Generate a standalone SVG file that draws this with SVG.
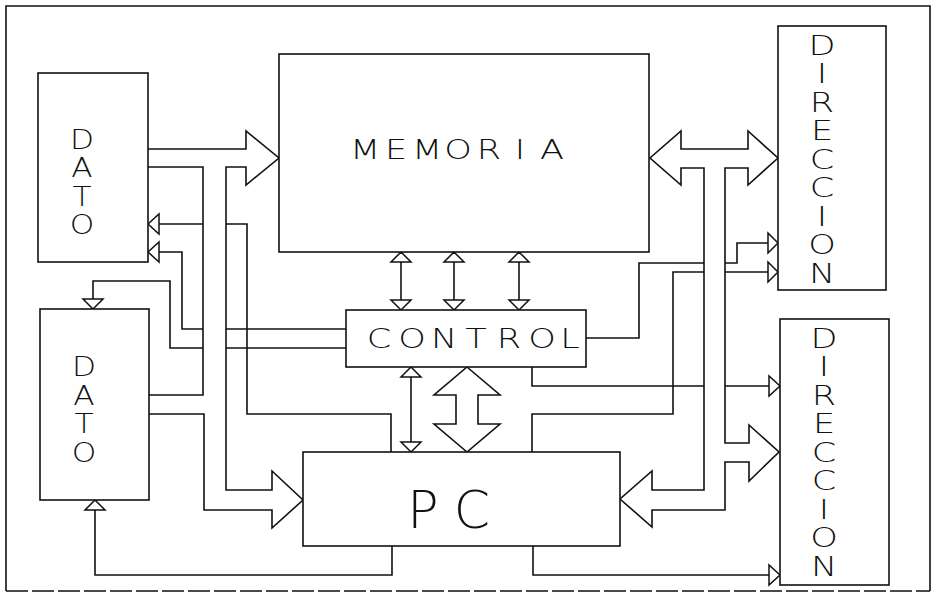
<svg xmlns="http://www.w3.org/2000/svg" width="932" height="593" viewBox="0 0 932 593">
<style>
.ln{fill:none;stroke:#111;stroke-width:1.6;stroke-linejoin:miter}
.bx{fill:#fff;stroke:#111;stroke-width:1.6}
.ah{fill:#fff;stroke:#111;stroke-width:1.5;stroke-linejoin:miter}
.t{font-family:"DejaVu Sans","Liberation Sans",sans-serif;font-weight:200;fill:#111;text-anchor:middle}
.s27{font-size:27px}
.s26{font-size:26px}
.s52{font-size:52px}
</style>
<rect width="932" height="593" fill="#fff"/>
<g id="frame">
<path class="ln" d="M6,591 L6,6 L930,6 L930,591"/>
<line x1="6" y1="591" x2="930" y2="591" stroke="#111" stroke-width="1.6" stroke-dasharray="22,4"/>
</g>
<g id="connectors">
<!-- left bus -->
<polyline class="ln" points="148,149 246,149 246,131 279,158 246,185 246,167 226,167 226,490 272,490 272,471 303,500 272,528 272,510 204,510 204,414 149,414"/>
<polyline class="ln" points="148,167 203,167 203,395 149,395"/>
<polyline class="ln" points="203,224 159,224"/>
<polygon class="ah" points="148,224 159,214 159,234"/>
<polyline class="ln" points="203,329 182,329 182,252 159,252"/>
<polygon class="ah" points="148,252 159,242 159,262"/>
<polyline class="ln" points="203,348 170,348 170,281 93,281 93,299"/>
<polygon class="ah" points="93,309 83,299 103,299"/>
<polyline class="ln" points="226,224 247,224 247,414 391,414 391,452"/>
<polyline class="ln" points="346,329 226,329"/>
<polyline class="ln" points="346,348 226,348"/>
<polyline class="ln" points="392,546 392,575 95,575 95,510"/>
<polygon class="ah" points="95,500 85,510 105,510"/>
<!-- memoria - control -->
<g id="mc1"><line class="ln" x1="401" y1="262" x2="401" y2="300"/><polygon class="ah" points="401,252 391,262 411,262"/><polygon class="ah" points="391,300 411,300 401,310"/></g>
<g id="mc2"><line class="ln" x1="454" y1="262" x2="454" y2="300"/><polygon class="ah" points="454,252 444,262 464,262"/><polygon class="ah" points="444,300 464,300 454,310"/></g>
<g id="mc3"><line class="ln" x1="519" y1="262" x2="519" y2="300"/><polygon class="ah" points="519,252 509,262 529,262"/><polygon class="ah" points="509,300 529,300 519,310"/></g>
<!-- control - pc -->
<line class="ln" x1="411" y1="377" x2="411" y2="442"/>
<polygon class="ah" points="411,367 401,377 421,377"/>
<polygon class="ah" points="401,442 421,442 411,452"/>
<polygon class="ln" points="467,367 500,395 478,395 478,424 500,424 467,452 434,424 456,424 456,395 434,395"/>
<!-- right bus -->
<polygon class="ln" points="704,168 681,168 681,185 650,158 681,131 681,149 748,149 748,131 778,158 748,185 748,168 725,168 725,443 749,443 749,425 779,452 749,481 749,462 725,462 725,510 652,510 652,527 620,499 652,471 652,490 704,490"/>
<polyline class="ln" points="586,338 639,338 639,263 704,263"/>
<polyline class="ln" points="725,263 737,263 737,243 768,243"/>
<polygon class="ah" points="778,243 768,233 768,253"/>
<polyline class="ln" points="725,272 768,272"/>
<polygon class="ah" points="778,272 768,262 768,282"/>
<polyline class="ln" points="704,272 673,272 673,414 532,414 532,452"/>
<polyline class="ln" points="532,367 532,386 704,386"/>
<polyline class="ln" points="725,386 769,386"/>
<polygon class="ah" points="780,386 769,376 769,396"/>
<polyline class="ln" points="533,546 533,575 769,575"/>
<polygon class="ah" points="780,575 769,565 769,585"/>
</g>
<g id="dato1">
<rect class="bx" x="38" y="73" width="110" height="189"/>
<text class="t s26" transform="translate(82,0) scale(1.2,1)" x="0 0 0 0" y="149 177.5 206 234.5">DATO</text>
</g>
<g id="memoria">
<rect class="bx" x="279" y="54" width="370" height="198"/>
<text class="t s27" transform="translate(458,0) scale(1.3,1)" x="-71.5 -47.7 -23.8 0 23.8 47.7 72.3" y="159">MEMORIA</text>
</g>
<g id="direccion1">
<rect class="bx" x="778" y="26" width="108" height="264"/>
<text class="t s27" transform="translate(822,0) scale(1.3,1)" x="0 0 0 0 0 0 0 0 0" y="55 83.5 112 140.5 169 197.5 226 254.5 283">DIRECCION</text>
</g>
<g id="dato2">
<rect class="bx" x="40" y="309" width="109" height="191"/>
<text class="t s26" transform="translate(84,0) scale(1.2,1)" x="0 0 0 0" y="376 405 433.5 462">DATO</text>
</g>
<g id="control">
<rect class="bx" x="346" y="310" width="240" height="57"/>
<text class="t s27" transform="translate(476,0) scale(1.3,1)" x="-74.6 -49.2 -24.6 0 25.4 50.8 72.3" y="348">CONTROL</text>
</g>
<g id="pc">
<rect class="bx" x="303" y="452" width="317" height="94"/>
<text class="t s52" x="423 472" y="528">PC</text>
</g>
<g id="direccion2">
<rect class="bx" x="780" y="319" width="109" height="266"/>
<text class="t s27" transform="translate(824,0) scale(1.3,1)" x="0 0 0 0 0 0 0 0 0" y="348 376.5 405 433.5 462 490.5 519 547.5 576">DIRECCION</text>
</g>
</svg>
